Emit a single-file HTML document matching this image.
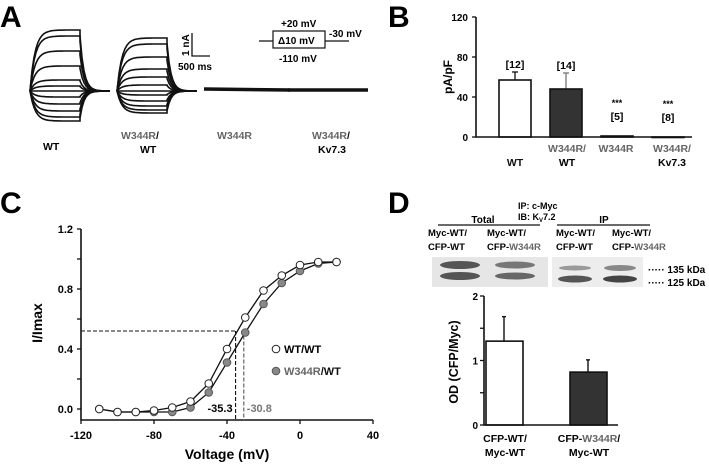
<!DOCTYPE html>
<html><head><meta charset="utf-8"><style>
body{margin:0;background:#fff;}
svg{font-family:"Liberation Sans",Arial,sans-serif;font-weight:bold;}
</style></head><body>
<svg width="709" height="470" viewBox="0 0 709 470">
<g font-size="30">
<text x="0" y="27">A</text>
<text x="388" y="27">B</text>
<text x="0" y="213">C</text>
<text x="388" y="213">D</text>
</g>
<g id="traces" fill="none" stroke="#111" stroke-width="1.6"></g>
<g stroke="#111" stroke-width="1.3" fill="none">
<path d="M192 33 V56 H210"/></g>
<text x="0" y="0" font-size="10" transform="translate(189,56) rotate(-90)">1 nA</text>
<text x="178" y="70" font-size="10">500 ms</text>
<g stroke="#111" stroke-width="1.2" fill="none">
<path d="M259 41H273M325 41H349"/><rect x="273" y="31" width="52" height="17"/></g>
<g font-size="10">
<text x="281" y="27">+20 mV</text><text x="278" y="44">Δ10 mV</text>
<text x="329" y="37">-30 mV</text><text x="279" y="62">-110 mV</text></g>
<g font-size="10.5">
<text x="43" y="150">WT</text>
<text x="121" y="139" fill="#666">W344R<tspan fill="#111">/</tspan></text><text x="140" y="153">WT</text>
<text x="217" y="139" fill="#666">W344R</text>
<text x="312" y="139" fill="#666">W344R<tspan fill="#111">/</tspan></text><text x="318" y="153">Kv7.3</text></g>

<g id="chartB"></g>
<g id="chartC"></g>

<g>
<text x="518" y="209" font-size="9">IP: c-Myc</text>
<text x="518" y="220" font-size="9">IB: K<tspan font-size="6" dy="2">V</tspan><tspan dy="-2">7.2</tspan></text>
<text x="483" y="223" font-size="10" text-anchor="middle">Total</text>
<line x1="438" y1="225" x2="540" y2="225" stroke="#111" stroke-width="1.3"/>
<text x="604" y="223" font-size="10" text-anchor="middle">IP</text>
<line x1="557" y1="225" x2="650" y2="225" stroke="#111" stroke-width="1.3"/>
<g font-size="9.5">
<text x="428" y="236">Myc-WT/</text><text x="428" y="250">CFP-WT</text>
<text x="487" y="236">Myc-WT/</text><text x="487" y="250">CFP-<tspan fill="#666">W344R</tspan></text>
<text x="556" y="236">Myc-WT/</text><text x="556" y="250">CFP-WT</text>
<text x="612" y="236">Myc-WT/</text><text x="612" y="250">CFP-<tspan fill="#666">W344R</tspan></text></g>
<rect x="432" y="257" width="116" height="30" fill="#e6e6e6"/>
<ellipse cx="460" cy="265" rx="20" ry="4" fill="#555"/><ellipse cx="460" cy="276" rx="20" ry="4" fill="#555"/>
<ellipse cx="515" cy="265" rx="20" ry="3.5" fill="#777"/><ellipse cx="515" cy="276" rx="20" ry="3.5" fill="#666"/>
<rect x="552" y="257" width="91" height="30" fill="#ededed"/>
<ellipse cx="575" cy="268" rx="16" ry="2.5" fill="#999"/><ellipse cx="575" cy="279" rx="17" ry="3.5" fill="#555"/>
<ellipse cx="620" cy="268" rx="16" ry="3" fill="#888"/><ellipse cx="620" cy="279" rx="17" ry="3.5" fill="#444"/>
<g font-size="10"><text x="648" y="273">····· 135 kDa</text><text x="648" y="286">····· 125 kDa</text></g>
</g>
<g id="chartD"></g>

<script>
const NS="http://www.w3.org/2000/svg";
function mk(p,t,a,txt){const e=document.createElementNS(NS,t);for(const k in a)e.setAttribute(k,a[k]);if(txt!==undefined)e.textContent=txt;p.appendChild(e);return e;}

// Panel A traces
const wtAmps=[-30,-26,-20,-13,-6,0,5,11,25,40,55,61];
const mutAmps=[-22,-19,-15,-10,-4,0,6,14,22,34,47,53];
const tr=document.getElementById('traces');
function traces(x0,amps){
  amps.forEach(a=>{
    let d=`M${x0} 91 `;
    for(let i=0;i<=50;i+=2){d+=`L${x0+i} ${(91-a*(1-Math.exp(-i/5))).toFixed(1)} `;}
    for(let i=0;i<=30;i+=2){d+=`L${x0+50+i} ${(91-a*0.9*Math.exp(-i/4)).toFixed(1)} `;}
    const p=mk(tr,'path',{d:d});
    
    
  });
}
traces(30,wtAmps);traces(117,mutAmps);
const flat1=mk(tr,'path',{d:'M204 89 L290 90','stroke-width':'3.5'});

const flat2=mk(tr,'path',{d:'M288 90 L368 90','stroke-width':'3.5'});


// Panel B
const bCats=['WT','W344R/WT','W344R','W344R/Kv7.3'];
const bVals=[57,48,1,0];
const bErr=[8,16,0,0];
const bN=['[12]','[14]','[5]','[8]'];
const bStar=['','','***','***'];
const bTicks=[0,40,80,120];
const gB=document.getElementById('chartB');
const yB=v=>137-v*1.0;
const xB=i=>499+i*51;
bTicks.forEach(t=>{mk(gB,'line',{x1:472,x2:476,y1:yB(t),y2:yB(t),stroke:'#111','stroke-width':1.3});
 mk(gB,'text',{x:468,y:yB(t)+4,'font-size':10,'text-anchor':'end'},t);});
const bFill=['#fff','#333','#333','#333'];
bVals.forEach((v,i)=>{
 if(bErr[i]){mk(gB,'line',{x1:xB(i)+16,x2:xB(i)+16,y1:yB(v),y2:yB(v+bErr[i]),stroke:i?'#777':'#111','stroke-width':1.3});
  mk(gB,'line',{x1:xB(i)+13,x2:xB(i)+19,y1:yB(v+bErr[i]),y2:yB(v+bErr[i]),stroke:i?'#777':'#111','stroke-width':1.3});}
 const r=mk(gB,'rect',{x:xB(i),y:yB(v),width:32,height:Math.max(v,0.5),fill:bFill[i],stroke:'#111','stroke-width':1.6});
 
 
 const top=i<2?yB(v+bErr[i])-4:yB(v)-16;
 mk(gB,'text',{x:xB(i)+16,y:top,'font-size':10.5,'text-anchor':'middle'},bN[i]);
 if(bStar[i])mk(gB,'text',{x:xB(i)+16,y:top-14,'font-size':9,'text-anchor':'middle'},bStar[i]);
});
mk(gB,'path',{d:'M476 17 V137 H692',fill:'none',stroke:'#111','stroke-width':1.6});
mk(gB,'text',{x:0,y:0,'font-size':12,'text-anchor':'middle',transform:'translate(452,77) rotate(-90)'},'pA/pF');
[['WT','',515,166],['W344R/','WT',567,152],['W344R','',616,152],['W344R/','Kv7.3',672,152]].forEach((l,i)=>{
 mk(gB,'text',{x:l[2],y:l[3],'font-size':10.5,'text-anchor':'middle',fill:i?'#666':'#111'},l[0]);
 if(l[1])mk(gB,'text',{x:l[2],y:166,'font-size':10.5,'text-anchor':'middle'},l[1]);
});

// Panel C
const cV=[-110,-100,-90,-80,-70,-60,-50,-40,-30,-20,-10,0,10,20];
const cWT=[0,-0.02,-0.02,-0.01,0.01,0.05,0.17,0.40,0.61,0.79,0.89,0.96,0.98,0.98];
const cMut=[0,-0.02,-0.02,-0.02,-0.02,0.01,0.11,0.31,0.51,0.70,0.84,0.92,0.97,0.98];
const cXT=[-120,-80,-40,0,40];
const cYT=[0,0.4,0.8,1.2];
const cHalf=[-35.3,-30.8];
const gC=document.getElementById('chartC');
const xC=v=>81+(v+120)*1.825;
const yC=v=>409-v*150;
mk(gC,'path',{d:'M81 229 V420 H373',fill:'none',stroke:'#111','stroke-width':1.6});
cXT.forEach(t=>{mk(gC,'line',{x1:xC(t),x2:xC(t),y1:420,y2:424,stroke:'#111','stroke-width':1.3});
 mk(gC,'text',{x:xC(t),y:439,'font-size':11,'text-anchor':'middle'},t);});
[0,0.2,0.4,0.6,0.8,1.0,1.2].forEach(t=>mk(gC,'line',{x1:77,x2:81,y1:yC(t),y2:yC(t),stroke:'#111','stroke-width':1.3}));
cYT.forEach(t=>mk(gC,'text',{x:73,y:yC(t)+4,'font-size':11,'text-anchor':'end'},t.toFixed(1)));
mk(gC,'text',{x:227,y:459,'font-size':14,'text-anchor':'middle'},'Voltage (mV)');
mk(gC,'text',{x:0,y:0,'font-size':14,'text-anchor':'middle',transform:'translate(42,323) rotate(-90)'},'I/Imax');
mk(gC,'path',{d:`M81 ${yC(0.52)} H${xC(cHalf[0])}`,stroke:'#111','stroke-dasharray':'4,2',fill:'none','stroke-width':1.1});
cHalf.forEach((h,i)=>mk(gC,'line',{x1:xC(h),x2:xC(h),y1:yC(i?0.49:0.52),y2:420,stroke:i?'#555':'#111','stroke-dasharray':'4,2','stroke-width':1.1}));
mk(gC,'text',{x:xC(cHalf[0])-3,y:412,'font-size':11,'text-anchor':'end'},'-35.3');
mk(gC,'text',{x:xC(cHalf[1])+3,y:412,'font-size':11,fill:'#777'},'-30.8');
function series(vals,fill,name){
 mk(gC,'polyline',{points:cV.map((v,i)=>xC(v)+','+yC(vals[i])).join(' '),fill:'none',stroke:'#111','stroke-width':1.3});
 cV.forEach((v,i)=>{const c=mk(gC,'circle',{cx:xC(v),cy:yC(vals[i]),r:3.8,fill:fill,stroke:fill=='#fff'?'#222':'#555','stroke-width':1});
  });
}
series(cMut,'#888','w344r-wt');series(cWT,'#fff','wt-wt');
mk(gC,'circle',{cx:276,cy:349,r:3.8,fill:'#fff',stroke:'#222'});
mk(gC,'text',{x:284,y:353,'font-size':11},'WT/WT');
mk(gC,'circle',{cx:276,cy:371,r:3.8,fill:'#888',stroke:'#555'});
const lt=mk(gC,'text',{x:284,y:375,'font-size':11,fill:'#666'},'W344R');
mk(lt,'tspan',{fill:'#111'},'/WT');

// Panel D
const dCats=['CFP-WT/Myc-WT','CFP-W344R/Myc-WT'];
const dVals=[1.3,0.82];
const dErr=[0.38,0.19];
const dTicks=[0,1,2];
const gD=document.getElementById('chartD');
const yD=v=>425-v*64.5;
const xD=i=>486+i*84;
[0,0.5,1,1.5,2].forEach(t=>mk(gD,'line',{x1:480,x2:484,y1:yD(t),y2:yD(t),stroke:'#111','stroke-width':1.3}));
dTicks.forEach(t=>mk(gD,'text',{x:478,y:yD(t)+4,'font-size':10,'text-anchor':'end'},t));
dVals.forEach((v,i)=>{
 mk(gD,'line',{x1:xD(i)+18,x2:xD(i)+18,y1:yD(v),y2:yD(v+dErr[i]),stroke:'#111','stroke-width':1.4});
 mk(gD,'line',{x1:xD(i)+16,x2:xD(i)+20,y1:yD(v+dErr[i]),y2:yD(v+dErr[i]),stroke:'#111','stroke-width':1.4});
 const r=mk(gD,'rect',{x:xD(i),y:yD(v),width:37,height:v*64.5,fill:i?'#333':'#fff',stroke:'#111','stroke-width':1.6});
 
 
});
mk(gD,'path',{d:'M484 296 V425 H618',fill:'none',stroke:'#111','stroke-width':1.6});
mk(gD,'text',{x:0,y:0,'font-size':12.5,'text-anchor':'middle',transform:'translate(458,362) rotate(-90)'},'OD (CFP/Myc)');
mk(gD,'text',{x:505,y:442,'font-size':10.5,'text-anchor':'middle'},'CFP-WT/');
mk(gD,'text',{x:505,y:456,'font-size':10.5,'text-anchor':'middle'},'Myc-WT');
const d2=mk(gD,'text',{x:589,y:442,'font-size':10.5,'text-anchor':'middle'},'CFP-');
mk(d2,'tspan',{fill:'#666'},'W344R');mk(d2,'tspan',{},'/');
mk(gD,'text',{x:589,y:456,'font-size':10.5,'text-anchor':'middle'},'Myc-WT');
</script>
</svg>
</body></html>
